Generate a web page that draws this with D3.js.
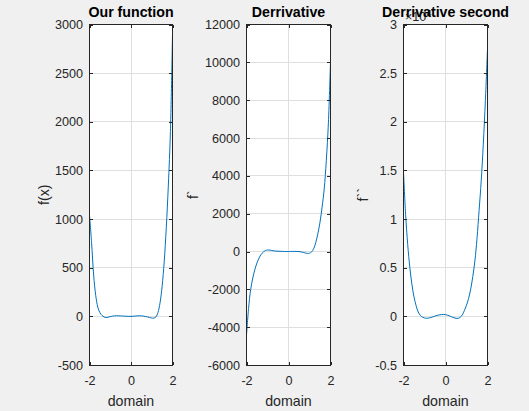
<!DOCTYPE html>
<html lang="en">
<head>
<meta charset="utf-8">
<title>Our function and its derivatives</title>
<script src="https://cdn.jsdelivr.net/npm/d3@7"></script>
<style>
  body { margin: 0; background: #f0f0f0; }
  svg { display: block; font-family: "Liberation Sans", Arial, sans-serif; }
  .plotbg { fill: #fff; }
  .grid line { stroke: #dfdfdf; stroke-width: 1; shape-rendering: crispEdges; }
  .border { fill: none; stroke: #262626; stroke-width: 1; shape-rendering: crispEdges; }
  .axis path { display: none; }
  .axis line { stroke: #262626; shape-rendering: crispEdges; }
  .axis text { fill: #262626; font-size: 12.6px; }
  .curve { fill: none; stroke: #0072bd; stroke-width: 1; }
  .label { fill: #262626; font-size: 14.2px; text-anchor: middle; }
  .title { fill: #000; font-size: 14.2px; font-weight: bold; text-anchor: middle; }
  .expo { fill: #262626; font-size: 12.6px; }
</style>
</head>
<body>
<div id="chart"></div>
<script>
// sample points along the domain
var domain = [-2, -1.9, -1.8, -1.7, -1.6, -1.5, -1.4, -1.3, -1.2, -1.1,
              -1, -0.9, -0.8, -0.7, -0.6, -0.5, -0.4, -0.3, -0.2, -0.1,
              0, 0.1, 0.2, 0.3, 0.4, 0.5, 0.6, 0.7, 0.8, 0.9,
              1, 1.1, 1.2, 1.3, 1.4, 1.5, 1.6, 1.7, 1.8, 1.9, 2];

// values
var fValues = [1040, 760, 425, 215, 95, 38, 10, -6, -12, -9,
               -3, 2, 5, 6, 6, 5, 3, 2, 1, 0,
               0, 1, 3, 5, 6, 5, 3, -1, -6, -12,
               -17, -18, -6, 40, 140, 310, 560, 910, 1350, 1900, 2900];

var dValues = [-4420, -3000, -2000, -1400, -950, -600, -340, -150, -30, 50,
               80, 75, 55, 35, 22, 15, 10, 5, 2, 0,
               0, 2, 5, 5, 2, -5, -20, -45, -80, -100,
               -90, -20, 150, 480, 950, 1550, 2350, 3300, 4800, 6800, 10030];

var d2Values = [14850, 10500, 7400, 5050, 3300, 2000, 1100, 450, 100, -80,
                -170, -200, -180, -120, -50, 30, 100, 150, 180, 200,
                180, 120, 40, -60, -140, -200, -200, -100, 150, 600,
                1150, 1850, 2800, 4100, 5700, 8000, 10900, 13900, 17700, 22200, 27500];

var xTicks = [-2, 0, 2];
var fTicks = [-500, 0, 500, 1000, 1500, 2000, 2500, 3000];
var dTicks = [-6000, -4000, -2000, 0, 2000, 4000, 6000, 8000, 10000, 12000];
var d2Ticks = [-5000, 0, 5000, 10000, 15000, 20000, 25000, 30000];

var W = 529, H = 411;
var plotTop = 24.5, plotBottom = 365;

var panels = [
  {title: "Our function", ylabel: "f(x)", values: fValues, ticks: fTicks, left: 89.5, right: 172.5, labelX: 49},
  {title: "Derrivative", ylabel: "f`", values: dValues, ticks: dTicks, left: 246.5, right: 330.5, labelX: 198},
  {title: "Derrivative second", ylabel: "f``", values: d2Values, ticks: d2Ticks, left: 403.5, right: 487.5, labelX: 368, expo: 4}
];

var svg = d3.select("#chart").append("svg")
    .attr("width", W)
    .attr("height", H);

panels.forEach(function(p) {
    var x = d3.scaleLinear().domain([-2, 2]).range([p.left, p.right]);
    var y = d3.scaleLinear().domain([p.ticks[0], p.ticks[p.ticks.length - 1]]).range([plotBottom, plotTop]);
    var fmt = p.expo ? function(d) { return String(d / Math.pow(10, p.expo)); } : function(d) { return String(d); };
    var g = svg.append("g");

    g.append("rect").attr("class", "plotbg")
        .attr("x", p.left).attr("y", plotTop)
        .attr("width", p.right - p.left).attr("height", plotBottom - plotTop);

    var grid = g.append("g").attr("class", "grid");
    grid.selectAll(".gx").data(xTicks).enter().append("line")
        .attr("x1", function(d) { return x(d); })
        .attr("x2", function(d) { return x(d); })
        .attr("y1", plotTop).attr("y2", plotBottom);
    grid.selectAll(".gy").data(p.ticks).enter().append("line")
        .attr("x1", p.left).attr("x2", p.right)
        .attr("y1", function(d) { return y(d); })
        .attr("y2", function(d) { return y(d); });

    var line = d3.line()
        .x(function(d, i) { return x(domain[i]); })
        .y(function(d) { return y(d); })
        .curve(d3.curveCatmullRom.alpha(0.5));
    g.append("path").attr("class", "curve").attr("d", line(p.values));

    g.append("rect").attr("class", "border")
        .attr("x", p.left).attr("y", plotTop)
        .attr("width", p.right - p.left).attr("height", plotBottom - plotTop);

    // ticks inside the box on all four sides, labels only left and bottom
    g.append("g").attr("class", "axis")
        .attr("transform", "translate(" + p.left + ",0)")
        .call(d3.axisLeft(y).tickValues(p.ticks).tickSize(-3.5).tickPadding(6.5).tickFormat(fmt));
    g.append("g").attr("class", "axis")
        .attr("transform", "translate(" + p.right + ",0)")
        .call(d3.axisRight(y).tickValues(p.ticks).tickSize(-3.5).tickFormat(""));
    g.append("g").attr("class", "axis")
        .attr("transform", "translate(0," + plotBottom + ")")
        .call(d3.axisBottom(x).tickValues(xTicks).tickSize(-3.5).tickPadding(11)
              .tickFormat(function(d) { return String(d); }));
    g.append("g").attr("class", "axis")
        .attr("transform", "translate(0," + plotTop + ")")
        .call(d3.axisTop(x).tickValues(xTicks).tickSize(-3.5).tickFormat(""));

    g.selectAll(".axis").attr("font-size", null).attr("font-family", null);

    g.append("text").attr("class", "label")
        .attr("x", (p.left + p.right) / 2).attr("y", 406)
        .text("domain");
    g.append("text").attr("class", "label")
        .attr("transform", "translate(" + p.labelX + "," + (plotTop + plotBottom) / 2 + ") rotate(-90)")
        .text(p.ylabel);

    if (p.expo) {
        var e = g.append("text").attr("class", "expo")
            .attr("x", p.left + 1.5).attr("y", 20.5);
        e.append("tspan").text("\u00d710");
        e.append("tspan").attr("dy", -5).attr("font-size", "9px").text(p.expo);
    }

    g.append("text").attr("class", "title")
        .attr("x", (p.left + p.right) / 2).attr("y", 17)
        .text(p.title);
});
</script>
</body>
</html>
